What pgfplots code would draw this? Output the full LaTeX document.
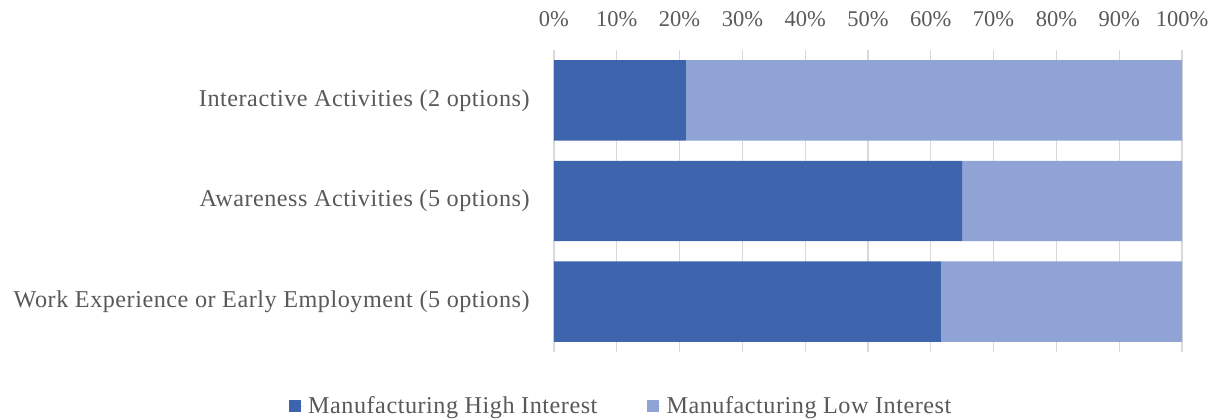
\documentclass[border=0pt]{standalone}
\usepackage{fontspec}
\setmainfont{Liberation Serif}[LetterSpace=2.2]
\usepackage{pgfplots}
\pgfplotsset{compat=1.18}
\definecolor{darkb}{HTML}{3D64AD}
\definecolor{lightb}{HTML}{8FA4D5}
\definecolor{txt}{HTML}{595959}
\definecolor{gridc}{HTML}{D9D9D9}
\begin{document}
\begin{tikzpicture}
\useasboundingbox (-332.4pt,-40.2pt) rectangle (400.2pt,211.2pt);
\begin{axis}[
  at={(0pt,0pt)}, anchor=south west,
  scale only axis, width=376.8pt, height=181.2pt,
  xbar stacked, bar width=48.24pt,
  xmin=0, xmax=100, ymin=-0.5, ymax=2.5,
  y dir=reverse,
  axis line style={draw=none},
  xtick={0,10,...,100},
  xticklabel={\pgfmathprintnumber{\tick}\%},
  xticklabel pos=upper,
  xmajorgrids, grid style={gridc, line width=0.8pt},
  major tick length=0pt,
  ytick={0,1,2},
  yticklabels={Interactive Activities (2 options), Awareness Activities (5 options), Work Experience or Early Employment (5 options)},
  ticklabel style={font=\fontsize{14.5}{17}\selectfont, text=txt},
  /pgf/number format/assume math mode=true,
  xticklabel style={inner sep=0pt, anchor=south, yshift=13.5pt, font=\fontsize{13.5}{16}\selectfont\addfontfeature{LetterSpace=0}},
  yticklabel style={inner sep=0pt, anchor=east, xshift=-14.4pt},
  legend style={draw=none, at={(rel axis cs:0.108,0)}, anchor=center, yshift=-32.4pt,
    legend columns=2, font=\fontsize{14.5}{17}\selectfont, text=txt,
    /tikz/every even column/.append style={column sep=28pt}},
  legend image code/.code={\path (0pt,0pt) -- (9.5pt,0pt); \fill[#1] (0pt,-3.6pt) rectangle (7.2pt,3.6pt);},
]
\addplot[fill=darkb, draw=none] coordinates {(21,0) (65,1) (61.6,2)};
\addplot[fill=lightb, draw=none] coordinates {(79,0) (35,1) (38.4,2)};
\legend{Manufacturing High Interest, Manufacturing Low Interest}
\end{axis}
\end{tikzpicture}
\end{document}
